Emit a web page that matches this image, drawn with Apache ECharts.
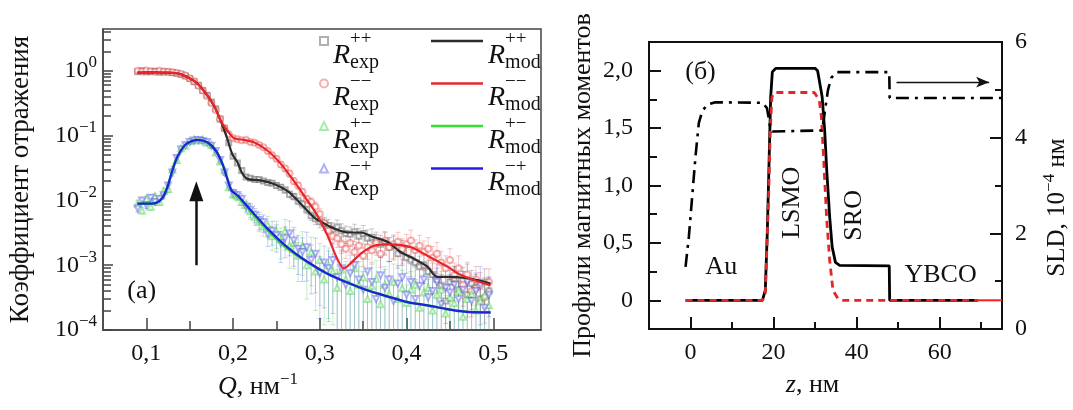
<!DOCTYPE html>
<html><head><meta charset="utf-8">
<script src="https://cdn.jsdelivr.net/npm/echarts@6/dist/echarts.min.js"></script>
<style>html,body{margin:0;padding:0;background:#fff}#c{width:1073px;height:410px}</style>
</head><body><div id="c"></div>
<script>
// ---------- Panel (a): reflectivity ----------
const qExp = [0.090,0.095,0.100,0.105,0.110,0.115,0.120,0.125,0.130,0.135,
0.140,0.145,0.150,0.155,0.160,0.165,0.170,0.175,0.180,0.185,
0.190,0.195,0.200,0.205,0.210,0.215,0.220,0.225,0.230,0.235,
0.240,0.245,0.250,0.255,0.260,0.265,0.270,0.275,0.280,0.285,
0.290,0.295,0.300,0.305,0.310,0.315,0.320,0.325,0.330,0.335,
0.340,0.345,0.350,0.355,0.360,0.365,0.370,0.375,0.380,0.385,
0.390,0.395,0.400,0.405,0.410,0.415,0.420,0.425,0.430,0.435,
0.440,0.445,0.450,0.455,0.460,0.465,0.470,0.475,0.480,0.485,
0.490,0.495];
const rppExp = [0.97,1.00,0.96,0.98,0.99,0.95,0.97,0.96,0.94,0.92,
0.88,0.83,0.76,0.68,0.60,0.50,0.42,0.33,0.26,0.18,
0.13,0.078,0.048,0.038,0.029,0.023,0.022,0.021,0.021,0.020,
0.019,0.0185,0.017,0.016,0.0145,0.0125,0.0115,0.0098,0.0088,0.0072,
0.0058,0.0052,0.0047,0.0044,0.0041,0.0036,0.0039,0.0034,0.0031,0.0030,
0.0033,0.0028,0.0031,0.0026,0.0027,0.0024,0.0021,0.0023,0.0019,0.0020,
0.0015,0.0017,0.0013,0.0012,0.0011,0.00095,0.0010,0.0008,0.00072,0.00060,
0.00048,0.00028,0.00055,0.00062,0.00042,0.00058,0.00035,0.00052,0.00045,0.00030,
0.00055,0.00040];
const rmmExp = [1.00,0.98,1.01,0.99,0.97,1.00,0.98,0.97,0.95,0.93,
0.90,0.85,0.77,0.69,0.59,0.50,0.41,0.32,0.25,0.18,
0.13,0.105,0.092,0.088,0.085,0.086,0.080,0.078,0.072,0.066,
0.058,0.050,0.044,0.036,0.031,0.026,0.020,0.017,0.0135,0.0105,
0.0095,0.0080,0.0062,0.0045,0.0034,0.0028,0.0026,0.0021,0.0018,0.0022,
0.0016,0.0020,0.0014,0.0019,0.0017,0.0022,0.0015,0.0024,0.0019,0.0021,
0.0023,0.0018,0.0021,0.0024,0.0017,0.0020,0.0016,0.0018,0.0013,0.0015,
0.0011,0.0009,0.0012,0.0007,0.0009,0.0005,0.00072,0.00040,0.00060,0.00048,
0.00032,0.00055];
const rpmExp = [0.0090,0.0070,0.0105,0.0080,0.0115,0.0095,0.0140,0.0150,0.0300,0.0420,
0.064,0.070,0.082,0.087,0.084,0.087,0.078,0.072,0.055,0.040,
0.029,0.016,0.0125,0.0115,0.0095,0.0085,0.0068,0.0055,0.0047,0.0040,
0.0042,0.0028,0.0033,0.0025,0.0034,0.0020,0.0022,0.0014,0.0020,0.0010,
0.0016,0.0008,0.0012,0.00060,0.0010,0.00080,0.00045,0.00085,0.00060,0.00040,
0.00090,0.00050,0.00065,0.00030,0.00048,0.00062,0.00025,0.00050,0.00036,0.00055,
0.00030,0.00044,0.00026,0.00042,0.00050,0.00022,0.00038,0.00045,0.00020,0.00035,
0.00042,0.00018,0.00032,0.00026,0.00040,0.00016,0.00030,0.00036,0.00020,0.00028,
0.00034,0.00024];
const rmpExp = [0.0075,0.0100,0.0085,0.0110,0.0095,0.0105,0.0120,0.0170,0.0270,0.0450,
0.061,0.072,0.080,0.084,0.086,0.083,0.080,0.070,0.058,0.042,
0.027,0.017,0.013,0.0120,0.0105,0.0080,0.0072,0.0060,0.0050,0.0046,
0.0030,0.0034,0.0029,0.0022,0.0026,0.0031,0.0024,0.0018,0.0016,0.0019,
0.0012,0.0015,0.00075,0.0011,0.0009,0.0012,0.00065,0.0009,0.00050,0.00075,
0.0010,0.00060,0.00042,0.00080,0.00055,0.00030,0.00070,0.00045,0.00060,0.00028,
0.00052,0.00065,0.00035,0.00055,0.00030,0.00048,0.00060,0.00032,0.00040,0.00055,
0.00025,0.00045,0.00038,0.00050,0.00030,0.00042,0.00055,0.00028,0.00040,0.00050,
0.00022,0.00035];
// relative error bars
const errNSF = [0.03,0.03,0.03,0.03,0.03,0.03,0.03,0.03,0.03,0.03,
0.03,0.03,0.03,0.03,0.03,0.03,0.03,0.03,0.03,0.03,
0.03,0.03,0.06,0.06,0.07,0.07,0.08,0.08,0.08,0.08,
0.09,0.09,0.10,0.10,0.10,0.12,0.12,0.12,0.14,0.14,
0.15,0.18,0.20,0.22,0.25,0.25,0.28,0.28,0.30,0.30,
0.30,0.32,0.32,0.35,0.35,0.35,0.38,0.38,0.40,0.40,
0.40,0.42,0.42,0.45,0.45,0.45,0.48,0.48,0.50,0.50,
0.50,0.55,0.50,0.55,0.55,0.60,0.55,0.60,0.60,0.60,
0.60,0.60];
const errSF = [0.12,0.12,0.12,0.12,0.12,0.12,0.12,0.12,0.12,0.12,
0.08,0.08,0.08,0.08,0.08,0.08,0.08,0.08,0.08,0.08,
0.10,0.12,0.15,0.15,0.20,0.20,0.25,0.25,0.30,0.30,
0.35,0.40,0.45,0.50,0.50,0.55,0.60,0.60,0.65,0.70,
0.70,0.75,0.80,0.80,0.85,0.85,0.90,0.90,0.90,0.90,
0.90,0.90,0.90,0.90,0.90,0.90,0.90,0.90,0.90,0.90,
0.90,0.90,0.90,0.90,0.90,0.90,0.90,0.90,0.90,0.90,
0.90,0.90,0.90,0.90,0.90,0.90,0.90,0.90,0.90,0.90,
0.90,0.90];

const qModPP = [0.0896,0.100,0.110,0.120,0.130,0.1395,0.155,0.1664,0.178,0.1857,0.1934,0.199,0.205,0.2107,0.2164,0.2318,0.2471,0.2625,0.278,0.293,0.301,0.3163,0.3317,0.347,0.3624,0.3778,0.393,0.4085,0.424,0.4355,0.4508,0.466,0.4816,0.4969];
const rppMod = [0.94,0.95,0.95,0.94,0.93,0.89,0.70,0.49,0.29,0.17,0.089,0.052,0.039,0.026,0.0215,0.0204,0.018,0.014,0.0089,0.0055,0.0047,0.0037,0.0032,0.0032,0.0027,0.0023,0.0016,0.00126,0.00095,0.00066,0.00066,0.00064,0.00059,0.00052];
const qModMM = [0.0896,0.100,0.110,0.120,0.130,0.1395,0.155,0.1664,0.178,0.1857,0.1934,0.201,0.2125,0.224,0.2395,0.2548,0.270,0.2856,0.297,0.3087,0.320,0.3278,0.3355,0.347,0.3624,0.3816,0.4047,0.424,0.447,0.4623,0.4777,0.4969];
const rmmMod = [0.94,0.95,0.95,0.94,0.93,0.89,0.70,0.49,0.29,0.17,0.12,0.091,0.086,0.079,0.059,0.037,0.020,0.010,0.0059,0.0029,0.00126,0.00089,0.00107,0.0015,0.0020,0.0021,0.0019,0.0014,0.00095,0.00071,0.00059,0.00049];
const qModSF = [0.0896,0.1088,0.118,0.1242,0.130,0.1357,0.1434,0.151,0.1588,0.1703,0.180,0.1876,0.1934,0.1983,0.205,0.2202,0.2395,0.2625,0.2856,0.3087,0.3317,0.3548,0.3778,0.4009,0.424,0.447,0.470,0.4969];
const rpmMod = [0.0089,0.0090,0.0107,0.016,0.029,0.047,0.069,0.081,0.086,0.079,0.059,0.037,0.0215,0.0142,0.0118,0.0068,0.0035,0.0018,0.00112,0.00074,0.00054,0.00041,0.00033,0.00027,0.00024,0.00021,0.00019,0.000187];
const rmpMod = [0.0089,0.0090,0.0107,0.016,0.029,0.047,0.069,0.081,0.086,0.079,0.059,0.037,0.0215,0.0142,0.0120,0.0071,0.0037,0.0019,0.00113,0.00074,0.00054,0.00041,0.00033,0.00027,0.00024,0.00021,0.00019,0.000187];

const qTicksMajor = [0.1,0.2,0.3,0.4,0.5];
const qTicksMinor = [0.15,0.25,0.35,0.45];
const rTicksMinor = [2e-4,3e-4,4e-4,5e-4,6e-4,7e-4,8e-4,9e-4,2e-3,3e-3,4e-3,5e-3,6e-3,7e-3,8e-3,9e-3,
  0.02,0.03,0.04,0.05,0.06,0.07,0.08,0.09,0.2,0.3,0.4,0.5,0.6,0.7,0.8,0.9,2,3,4];

// ---------- Panel (б): depth profiles ----------
const zMom1 = [-1.2,17.3,18.0,18.5,18.9,19.3,19.7,20.5,30.0,30.6,31.7,32.3,32.8,33.5,34.1,34.9,35.9,47.85,47.95,69.2];
const mom1  = [0,0,0.087,0.61,1.19,1.77,1.99,2.02,2.02,2.0,1.77,1.48,1.13,0.73,0.465,0.33,0.305,0.30,0,0];
const zMom2 = [-1.2,17.3,18.0,18.8,19.2,19.6,20.2,29.8,31.0,31.5,31.9,32.3,32.8,33.5,34.3,35.5,36.7,69.4];
const mom2  = [0,0,0.05,0.90,1.48,1.77,1.81,1.81,1.745,1.60,1.34,1.05,0.70,0.35,0.087,0.015,0,0];
const zMom2Tail = [69.4,75];
const mom2Tail  = [0,0];
const zSLD = [-1.2,-0.4,0.4,1.2,2.0,2.8,4.0,6.0,17.3,18.4,18.9,19.2,19.7,31.7,32.3,33.1,33.9,35.1,47.85,47.95,75];
const sld  = [1.30,1.93,2.77,3.61,4.31,4.55,4.69,4.74,4.73,4.62,4.38,4.17,4.13,4.15,4.52,5.0,5.25,5.37,5.37,4.83,4.83];
const zTicksMajor = [0,20,40,60];
const zTicksMinor = [-10,10,30,50,70];
const mTicksMajor = [0,0.5,1,1.5,2];
const mTicksMinor = [0.25,0.75,1.25,1.75];
const sTicksMajor = [2,4];
const sTicksMinor = [1,3,5];
const sLabels = [0,2,4,6];

// ---------- helpers ----------
const FONT = 'Liberation Serif';
const TXT = '#111';
const pairs = (xs, ys) => xs.map((x, i) => [x, ys[i]]);
const errData = (xs, ys, rel) => xs.map((x, i) => [x, ys[i] * (1 - rel[i]), ys[i] * (1 + rel[i])]);
function errRender(params, api) {
  const x = api.value(0);
  const lo = Math.max(api.value(1), 1e-7);
  const hi = api.value(2);
  const a = api.coord([x, hi]), b = api.coord([x, lo]);
  const st = {stroke: api.visual('color'), lineWidth: 1};
  const c = 2.5;
  return {type: 'group', children: [
    {type: 'line', shape: {x1: a[0], y1: a[1], x2: b[0], y2: b[1]}, style: st},
    {type: 'line', shape: {x1: a[0] - c, y1: a[1], x2: a[0] + c, y2: a[1]}, style: st},
    {type: 'line', shape: {x1: b[0] - c, y1: b[1], x2: b[0] + c, y2: b[1]}, style: st}
  ]};
}
function logFmt(v) {
  const l = Math.log10(v), e = Math.round(l);
  if (Math.abs(l - e) > 1e-6) return '';
  return '{b|10}{e|' + (e < 0 ? '\u2212' + (-e) : e) + '}';
}
const comma = v => (v === 0 ? '0' : v.toFixed(1).replace('.', ','));
const legSup = {Rpp: '++', Rmm: '\u2212\u2212', Rpm: '+\u2212', Rmp: '\u2212+'};
function legFmt(name) {
  const p = name.split('_');
  return '{s|}{sup|' + legSup[p[0]] + '}\n{R|R}{sub|' + p[1] + '}';
}
const legRich = {
  s: {width: 17, lineHeight: 4},
  sup: {fontSize: 19, lineHeight: 4, fontFamily: FONT, color: TXT},
  R: {fontSize: 28, fontStyle: 'italic', fontFamily: FONT, lineHeight: 10, verticalAlign: 'top', color: TXT},
  sub: {fontSize: 20, fontFamily: FONT, lineHeight: 12, padding: [11, 0, 0, 0], verticalAlign: 'top', color: TXT}
};
const supRich = {
  b: {fontSize: 24, fontFamily: FONT, color: TXT},
  e: {fontSize: 17, fontFamily: FONT, color: TXT, lineHeight: 17, padding: [0, 0, 16, 0]},
  i: {fontSize: 26, fontFamily: FONT, fontStyle: 'italic', color: TXT}
};
const lineL = {color: '#444', width: 1.5};
const lineR = {color: '#111', width: 2};
function minorAxis(base, vals, len, ls) {
  return Object.assign({}, base, {
    axisLine: {show: false, onZero: false}, axisLabel: {show: false}, splitLine: {show: false}, name: '',
    axisTick: {show: true, inside: true, length: len, customValues: vals, lineStyle: ls}
  });
}
const annLabel = {show: true, position: 'inside', formatter: '{b}', fontFamily: FONT, fontSize: 26,
  color: TXT, textBorderWidth: 0, opacity: 1};

const xQ = {gridIndex: 0, type: 'value', min: 0.05, max: 0.555, position: 'bottom', offset: 0};
const yR = {gridIndex: 0, type: 'log', logBase: 10, min: 1e-4, max: 4.43, position: 'left', offset: 0};
const xZ = {gridIndex: 1, type: 'value', min: -10, max: 75, position: 'bottom', offset: 0};
const yM = {gridIndex: 1, type: 'value', min: -0.25, max: 2.25, position: 'left', offset: 0};
const yS = {gridIndex: 1, type: 'value', min: 0, max: 6, position: 'right', offset: 0};

const chart = echarts.init(document.getElementById('c'), null, {renderer: 'canvas'});
const option = {
  animation: false,
  backgroundColor: '#fff',
  textStyle: {fontFamily: FONT, color: TXT},
  grid: [
    {left: 103, top: 29, width: 438, height: 301, show: true, borderColor: '#444', borderWidth: 1.5, outerBoundsMode: 'none'},
    {left: 649, top: 42, width: 353, height: 287, show: true, borderColor: '#111', borderWidth: 2, outerBoundsMode: 'none'}
  ],
  legend: [
    {data: ['Rpp_exp', 'Rmm_exp', 'Rpm_exp', 'Rmp_exp'], orient: 'vertical', left: 319, top: 30, padding: 0, itemGap: 0,
     itemWidth: 8, itemHeight: 8, selectedMode: false, formatter: legFmt,
     textStyle: {padding: [9, 0, 0, 0], rich: legRich, fontFamily: FONT, color: TXT}},
    {data: ['Rpp_mod', 'Rmm_mod', 'Rpm_mod', 'Rmp_mod'], orient: 'vertical', left: 431, top: 30, padding: 0, itemGap: 0,
     icon: 'rect', itemWidth: 52, itemHeight: 2.5, selectedMode: false, formatter: legFmt,
     textStyle: {padding: [9, 0, 0, 0], rich: legRich, fontFamily: FONT, color: TXT}}
  ],
  xAxis: [
    Object.assign({}, xQ, {
      axisLine: {show: true, onZero: false, lineStyle: lineL},
      axisTick: {show: true, inside: true, length: 12, customValues: qTicksMajor, lineStyle: lineL},
      axisLabel: {customValues: qTicksMajor, formatter: comma, fontFamily: FONT, fontSize: 24, color: TXT, margin: 12},
      splitLine: {show: false},
      name: '{i|Q}, нм{e|\u22121}', nameLocation: 'middle', nameGap: 44,
      nameTextStyle: {fontFamily: FONT, fontSize: 26, color: TXT, padding: [0, 128, 0, 0], rich: supRich}
    }),
    minorAxis(xQ, qTicksMinor, 9, lineL),
    Object.assign({}, xZ, {
      axisLine: {show: true, onZero: false, lineStyle: lineR},
      axisTick: {show: true, inside: true, length: 12, customValues: zTicksMajor, lineStyle: lineR},
      axisLabel: {customValues: zTicksMajor, fontFamily: FONT, fontSize: 24, color: TXT, margin: 12},
      splitLine: {show: false},
      name: '{i|z}, нм', nameLocation: 'middle', nameGap: 43,
      nameTextStyle: {fontFamily: FONT, fontSize: 26, color: TXT, padding: [0, 26, 0, 0], rich: supRich}
    }),
    minorAxis(xZ, zTicksMinor, 7, lineR)
  ],
  yAxis: [
    Object.assign({}, yR, {
      axisLine: {show: true, onZero: false, lineStyle: lineL},
      axisTick: {show: true, inside: true, length: 10, lineStyle: lineL},
      axisLabel: {formatter: logFmt, rich: supRich, margin: 6, color: TXT, showMinLabel: true, showMaxLabel: false},
      splitLine: {show: false}, minorTick: {show: false},
      name: 'Коэффициент отражения', nameLocation: 'middle', nameGap: 69, nameRotate: 90,
      nameTextStyle: {fontFamily: FONT, fontSize: 27, color: TXT}
    }),
    minorAxis(yR, rTicksMinor, 8, lineL),
    Object.assign({}, yM, {
      axisLine: {show: true, onZero: false, lineStyle: lineR},
      axisTick: {show: true, inside: true, length: 12, customValues: mTicksMajor, lineStyle: lineR},
      axisLabel: {customValues: mTicksMajor, formatter: comma, fontFamily: FONT, fontSize: 24, color: TXT, margin: 16},
      splitLine: {show: false},
      name: 'Профили магнитных моментов', nameLocation: 'middle', nameGap: 53, nameRotate: 90,
      nameTextStyle: {fontFamily: FONT, fontSize: 26, color: TXT}
    }),
    minorAxis(yM, mTicksMinor, 8, lineR),
    Object.assign({}, yS, {
      axisLine: {show: true, onZero: false, lineStyle: lineR},
      axisTick: {show: true, inside: true, length: 12, customValues: sTicksMajor, lineStyle: lineR},
      axisLabel: {customValues: sLabels, fontFamily: FONT, fontSize: 24, color: TXT, margin: 13},
      splitLine: {show: false},
      name: 'SLD, 10{e|\u22124} нм', nameLocation: 'middle', nameGap: 43, nameRotate: 90,
      nameTextStyle: {fontFamily: FONT, fontSize: 25, color: TXT, padding: [0, 44, 0, 0], rich: supRich}
    }),
    minorAxis(yS, sTicksMinor, 7, lineR)
  ],
  series: [
    // error bars
    {type: 'custom', xAxisIndex: 0, yAxisIndex: 0, renderItem: errRender, clip: true, silent: true,
     itemStyle: {color: 'rgba(90,90,90,0.3)'}, encode: {x: 0, y: [1, 2]}, data: errData(qExp, rppExp, errNSF)},
    {type: 'custom', xAxisIndex: 0, yAxisIndex: 0, renderItem: errRender, clip: true, silent: true,
     itemStyle: {color: 'rgba(235,70,70,0.3)'}, encode: {x: 0, y: [1, 2]}, data: errData(qExp, rmmExp, errNSF)},
    {type: 'custom', xAxisIndex: 0, yAxisIndex: 0, renderItem: errRender, clip: true, silent: true,
     itemStyle: {color: 'rgba(60,210,60,0.3)'}, encode: {x: 0, y: [1, 2]}, data: errData(qExp, rpmExp, errSF)},
    {type: 'custom', xAxisIndex: 0, yAxisIndex: 0, renderItem: errRender, clip: true, silent: true,
     itemStyle: {color: 'rgba(60,60,235,0.25)'}, encode: {x: 0, y: [1, 2]}, data: errData(qExp, rmpExp, errSF)},
    // experimental points
    {name: 'Rpp_exp', type: 'scatter', xAxisIndex: 0, yAxisIndex: 0, symbol: 'emptyRect', symbolSize: 5,
     itemStyle: {color: 'rgba(90,90,90,0.6)'}, data: pairs(qExp, rppExp), clip: true},
    {name: 'Rmm_exp', type: 'scatter', xAxisIndex: 0, yAxisIndex: 0, symbol: 'emptyCircle', symbolSize: 6,
     itemStyle: {color: 'rgba(235,70,70,0.55)'}, data: pairs(qExp, rmmExp), clip: true},
    {name: 'Rpm_exp', type: 'scatter', xAxisIndex: 0, yAxisIndex: 0, symbol: 'emptyTriangle', symbolSize: 6,
     itemStyle: {color: 'rgba(60,210,60,0.55)'}, data: pairs(qExp, rpmExp), clip: true},
    {name: 'Rmp_exp', type: 'scatter', xAxisIndex: 0, yAxisIndex: 0, symbol: 'emptyTriangle', symbolRotate: 180, symbolSize: 6,
     itemStyle: {color: 'rgba(60,60,235,0.5)'}, data: pairs(qExp, rmpExp), clip: true},
    // model curves
    {name: 'Rpp_mod', type: 'line', xAxisIndex: 0, yAxisIndex: 0, symbol: 'none', smooth: 0.3,
     lineStyle: {color: '#2b2b2b', width: 2.2}, itemStyle: {color: '#2b2b2b'}, data: pairs(qModPP, rppMod)},
    {name: 'Rmm_mod', type: 'line', xAxisIndex: 0, yAxisIndex: 0, symbol: 'none', smooth: 0.3,
     lineStyle: {color: '#e8262a', width: 2.2}, itemStyle: {color: '#e8262a'}, data: pairs(qModMM, rmmMod)},
    {name: 'Rpm_mod', type: 'line', xAxisIndex: 0, yAxisIndex: 0, symbol: 'none', smooth: 0.3,
     lineStyle: {color: '#35e035', width: 2.6}, itemStyle: {color: '#35e035'}, data: pairs(qModSF, rpmMod)},
    {name: 'Rmp_mod', type: 'line', xAxisIndex: 0, yAxisIndex: 0, symbol: 'none', smooth: 0.3,
     lineStyle: {color: '#1f1fe0', width: 2.2}, itemStyle: {color: '#1f1fe0'}, data: pairs(qModSF, rmpMod)},
    // panel (a) annotations
    {type: 'scatter', xAxisIndex: 0, yAxisIndex: 0, symbolSize: 1, itemStyle: {color: 'rgba(255,255,255,0)'}, silent: true,
     label: annLabel,
     data: [{name: '(a)', value: [0.0946, 4.0e-4]}],
     markLine: {silent: true, symbol: ['none', 'triangle'], symbolSize: [14, 20], label: {show: false},
       lineStyle: {color: '#111', width: 2.5, type: 'solid'},
       data: [[{coord: [0.1576, 0.001]}, {coord: [0.1576, 0.0139]}]]}},
    // panel (б) profiles
    {type: 'line', xAxisIndex: 2, yAxisIndex: 2, symbol: 'none', lineStyle: {color: '#000', width: 2.8}, data: pairs(zMom1, mom1)},
    {type: 'line', xAxisIndex: 2, yAxisIndex: 2, symbol: 'none', lineStyle: {color: '#e02828', width: 2.8, type: [7, 5]}, data: pairs(zMom2, mom2)},
    {type: 'line', xAxisIndex: 2, yAxisIndex: 2, symbol: 'none', lineStyle: {color: '#ff1a1a', width: 2}, data: pairs(zMom2Tail, mom2Tail)},
    {type: 'line', xAxisIndex: 2, yAxisIndex: 4, symbol: 'none', lineStyle: {color: '#000', width: 2.6, type: [13, 6, 3, 6]}, data: pairs(zSLD, sld),
     markLine: {silent: true, symbol: ['none', 'arrow'], symbolSize: [8, 13], label: {show: false},
       lineStyle: {color: '#111', width: 1.3, type: 'solid'},
       data: [[{coord: [49.6, 5.16]}, {coord: [71.9, 5.16]}]]}},
    {type: 'scatter', xAxisIndex: 2, yAxisIndex: 2, symbolSize: 1, itemStyle: {color: 'rgba(255,255,255,0)'}, silent: true,
     label: annLabel,
     data: [
       {name: '(б)', value: [2.4, 1.99]},
       {name: 'Au', value: [7.4, 0.29]},
       {name: 'LSMO', value: [24.5, 0.85], label: {rotate: 90}},
       {name: 'SRO', value: [39.4, 0.74], label: {rotate: 90}},
       {name: 'YBCO', value: [60.2, 0.22]}
     ]}
  ]
};
chart.setOption(option);
</script>
</body></html>
